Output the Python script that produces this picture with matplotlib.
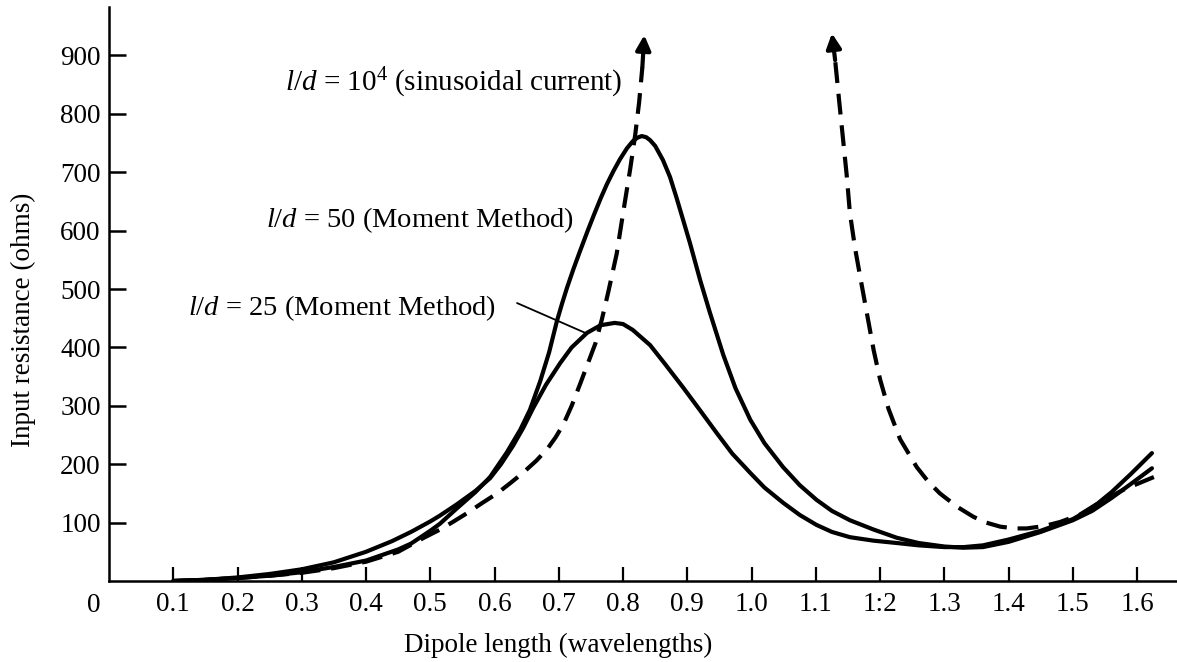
import numpy as np
import matplotlib
matplotlib.use("Agg")
import matplotlib.pyplot as plt

plt.rcParams["font.family"] = ["Liberation Serif", "DejaVu Serif"]
plt.rcParams["mathtext.fontset"] = "custom"
plt.rcParams["mathtext.rm"] = "Liberation Serif"
plt.rcParams["mathtext.it"] = "Liberation Serif:italic"

# l/d = 50 (Moment Method)
x50 = [0.10, 0.15, 0.20, 0.25, 0.30, 0.35, 0.40, 0.45, 0.47, 0.50, 0.515, 0.541,
       0.57, 0.593, 0.619, 0.640, 0.655, 0.671, 0.685, 0.697, 0.705, 0.713, 0.723,
       0.733, 0.745, 0.755, 0.765, 0.775, 0.785, 0.795, 0.806, 0.815, 0.822, 0.829,
       0.836, 0.842, 0.850, 0.862, 0.873, 0.883, 0.893, 0.904, 0.912, 0.920, 0.935,
       0.956, 0.975, 0.998, 1.02, 1.049, 1.075, 1.101, 1.125, 1.153, 1.19, 1.226,
       1.26, 1.30, 1.33, 1.36, 1.40, 1.45, 1.50, 1.53, 1.56, 1.59, 1.623]
r50 = [0, 2, 5, 9, 15, 24, 35, 54, 64, 86, 98, 124,
       152, 178, 220, 259, 293, 342, 392, 445, 475, 503, 535,
       565, 600, 628, 655, 680, 702, 722, 741, 753, 759, 762,
       760, 755, 745, 721, 692, 657, 620, 579, 547, 515, 460,
       387, 330, 276, 236, 195, 164, 139, 120, 104, 88, 74,
       65, 59, 57, 58, 67, 84, 104, 120, 142, 166, 193]

# l/d = 25 (Moment Method)
x25 = [0.10, 0.15, 0.20, 0.25, 0.30, 0.35, 0.40, 0.44, 0.47, 0.50, 0.515, 0.541,
       0.57, 0.593, 0.61, 0.629, 0.645, 0.660, 0.68, 0.702, 0.72, 0.744, 0.765,
       0.787, 0.80, 0.815, 0.842, 0.865, 0.893, 0.92, 0.946, 0.97, 0.998, 1.02,
       1.049, 1.075, 1.101, 1.125, 1.153, 1.19, 1.226, 1.26, 1.30, 1.33, 1.36,
       1.40, 1.45, 1.50, 1.53, 1.56, 1.59, 1.623]
r25 = [0, 2, 6, 12, 20, 32, 50, 68, 84, 102, 112, 131,
       154, 176, 200, 232, 263, 296, 336, 373, 400, 425, 438,
       442, 440, 430, 404, 372, 332, 292, 253, 218, 185, 160,
       134, 113, 96, 84, 75, 69, 65, 61, 58, 58, 61,
       71, 86, 106, 125, 152, 183, 219]

# l/d = 10^4 (sinusoidal current): rising branch, then falling branch, each ends in an arrow
xs_a = [0.10, 0.15, 0.20, 0.25, 0.30, 0.35, 0.40, 0.45, 0.47, 0.49, 0.515, 0.535,
        0.557, 0.58, 0.604, 0.625, 0.644, 0.665, 0.682, 0.695, 0.707, 0.72, 0.733,
        0.745, 0.757, 0.767, 0.777, 0.790, 0.800, 0.811, 0.819, 0.825, 0.830, 0.833]
rs_a = [0, 2, 5, 9, 14, 22, 33, 50, 62, 74, 88, 101,
        116, 133, 150, 168, 185, 206, 226, 246, 268, 300, 337,
        372, 407, 448, 495, 560, 630, 705, 765, 820, 880, 935]
xs_b = [1.626, 1.58, 1.542, 1.51, 1.480, 1.455, 1.428, 1.41, 1.387, 1.365, 1.345,
        1.32, 1.293, 1.275, 1.257, 1.231, 1.213, 1.200, 1.190, 1.180, 1.169, 1.161,
        1.153, 1.148, 1.142, 1.136, 1.130, 1.125]
rs_b = [178, 157, 135, 113, 101, 94, 90, 90, 93, 100, 110,
        127, 150, 170, 195, 243, 295, 345, 395, 455, 521, 570,
        630, 695, 760, 825, 892, 938]

xticks = [0.1, 0.2, 0.3, 0.4, 0.5, 0.6, 0.7, 0.8, 0.9, 1.0, 1.1, 1.2, 1.3, 1.4, 1.5, 1.6]
xtlabels = ["0.1", "0.2", "0.3", "0.4", "0.5", "0.6", "0.7", "0.8", "0.9", "1.0",
            "1.1", "1:2", "1.3", "1.4", "1.5", "1.6"]
yticks = [100, 200, 300, 400, 500, 600, 700, 800, 900]

fig = plt.figure(figsize=(11.77, 6.62), dpi=100)
ax = fig.add_axes([0.0926, 0.1224, 0.9074, 0.867])

lw = 3.0
ax.plot(x50, r50, color="black", lw=lw, solid_capstyle="round", solid_joinstyle="round")
ax.plot(x25, r25, color="black", lw=lw, solid_capstyle="round", solid_joinstyle="round")
for xs, rs in [(xs_a, rs_a), (xs_b, rs_b)]:
    ax.plot(xs[:-1], rs[:-1], color="black", lw=lw, linestyle=(0, (5, 2.6)),
            dash_joinstyle="round")
    ax.annotate("", xy=(xs[-1], rs[-1]), xytext=(xs[-2], rs[-2]),
                arrowprops=dict(arrowstyle="-|>", color="black", lw=lw,
                                mutation_scale=22, shrinkA=0, shrinkB=0))

ax.set_xlim(0, 1.662)
ax.set_ylim(0, 983)
for s in ["top", "right"]:
    ax.spines[s].set_visible(False)
for s in ["left", "bottom"]:
    ax.spines[s].set_linewidth(1.8)

ax.set_xticks(xticks)
ax.set_xticklabels(xtlabels)
ax.set_yticks(yticks)
ax.tick_params(axis="x", direction="in", length=10, width=1.6, labelsize=19.5, pad=8)
ax.tick_params(axis="y", direction="in", length=12, width=1.8, labelsize=19.5, pad=6)
ax.annotate("0", xy=(0, 0), xytext=(-11, -18), textcoords="offset points",
            ha="center", va="center", fontsize=19.5)

ax.set_xlabel("Dipole length (wavelengths)", fontsize=19.5)
ax.xaxis.set_label_coords(0.421, -0.09)
ax.set_ylabel("Input resistance (ohms)", fontsize=19.5)
ax.yaxis.set_label_coords(-0.068, 0.455)

ax.text(0.274, 853, r"$l/d$ = 10$^4$ (sinusoidal current)", fontsize=21, va="center")
ax.text(0.245, 618, r"$l/d$ = 50 (Moment Method)", fontsize=20.5, va="center")
ax.text(0.123, 467, r"$l/d$ = 25 (Moment Method)", fontsize=20.5, va="center")
ax.annotate("", xy=(0.741, 425), xytext=(0.635, 476),
            arrowprops=dict(arrowstyle="-", color="black", lw=1.3,
                            shrinkA=0, shrinkB=0))

fig.savefig("out.png", dpi=100, facecolor="white")
